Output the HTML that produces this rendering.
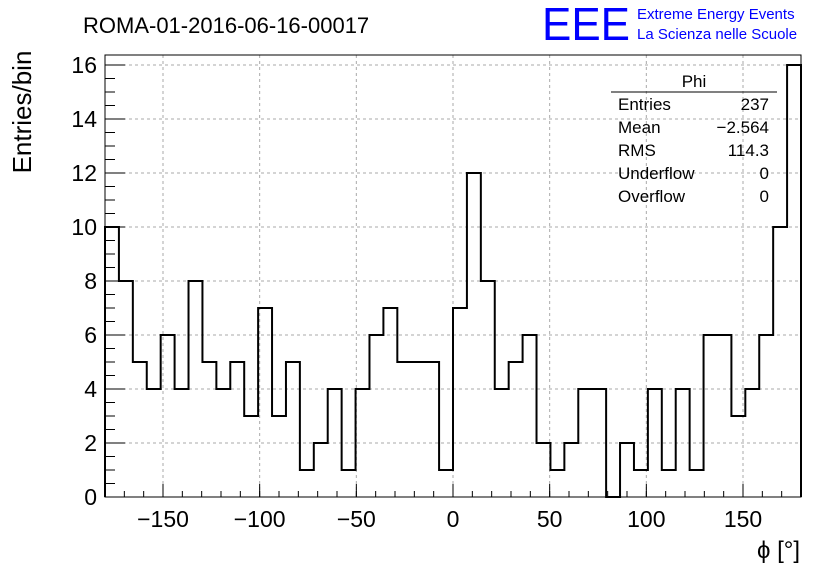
<!DOCTYPE html>
<html><head><meta charset="utf-8"><style>
body{margin:0;background:#fff;}
svg text{font-family:"Liberation Sans",sans-serif;}
</style></head><body>
<svg id="c" width="836" height="572" xmlns="http://www.w3.org/2000/svg">
<rect width="836" height="572" fill="#fff"/>
<text x="83" y="33" font-size="22">ROMA-01-2016-06-16-00017</text>
<text x="542" y="40" font-size="46" fill="#0000ff" textLength="88" lengthAdjust="spacingAndGlyphs">EEE</text>
<text x="637" y="19" font-size="15" fill="#0000ff">Extreme Energy Events</text>
<text x="637" y="39" font-size="15" fill="#0000ff">La Scienza nelle Scuole</text>
<g id="grid"></g>
<g id="axes"></g>
<path id="hist" fill="none" stroke="#000" stroke-width="2"/>
<rect x="105" y="55" width="696" height="442" fill="none" stroke="#000" stroke-width="1"/>
<g>
<text x="694" y="87" font-size="17" text-anchor="middle">Phi</text>
<line x1="611" y1="92" x2="777" y2="92" stroke="#000"/>
<text x="618" y="110" font-size="17">Entries</text><text x="769" y="110" font-size="17" text-anchor="end">237</text>
<text x="618" y="133" font-size="17">Mean</text><text x="769" y="133" font-size="17" text-anchor="end">−2.564</text>
<text x="618" y="156" font-size="17">RMS</text><text x="769" y="156" font-size="17" text-anchor="end">114.3</text>
<text x="618" y="179" font-size="17">Underflow</text><text x="769" y="179" font-size="17" text-anchor="end">0</text>
<text x="618" y="202" font-size="17">Overflow</text><text x="769" y="202" font-size="17" text-anchor="end">0</text>
</g>
<text transform="translate(31,112) rotate(-90)" font-size="26" text-anchor="middle">Entries/bin</text>
<text x="800" y="558" font-size="24" text-anchor="end">ϕ [°]</text>
</svg>
<script>
const counts=[10,8,5,4,6,4,8,5,4,5,3,7,3,5,1,2,4,1,4,6,7,5,5,5,1,7,12,8,4,5,6,2,1,2,4,4,0,2,1,4,1,4,1,6,6,3,4,6,10,16];
const xTicks=[-150,-100,-50,0,50,100,150];
const yTicks=[0,2,4,6,8,10,12,14,16];
const xMin=-180,xMax=180,yMax=16.37;
const L=105,R=801,T=55,B=497;
const X=v=>L+(v-xMin)/(xMax-xMin)*(R-L);
const Y=v=>B-v/yMax*(B-T);
const NS="http://www.w3.org/2000/svg";
const grid=document.getElementById('grid'),axes=document.getElementById('axes');
function mk(p,tag,a){const e=document.createElementNS(NS,tag);for(const k in a)e.setAttribute(k,a[k]);p.appendChild(e);return e;}
xTicks.forEach(t=>{
 const g=mk(grid,'line',{x1:X(t),x2:X(t),y1:T,y2:B,stroke:'#aaa','stroke-dasharray':'3,3'});
 
 
 const tk=mk(axes,'line',{x1:X(t),x2:X(t),y1:B,y2:B-13,stroke:'#000'});
 
 
 const lb=mk(axes,'text',{x:X(t),y:527,'font-size':23,'text-anchor':'middle'});
 lb.textContent=t<0?'−'+(-t):String(t);
 
 
});
for(let v=-180;v<=180;v+=10){mk(axes,'line',{x1:X(v),x2:X(v),y1:B,y2:B-6,stroke:'#000'});}
yTicks.forEach(t=>{
 if(t>0){const g=mk(grid,'line',{x1:L,x2:R,y1:Y(t),y2:Y(t),stroke:'#aaa','stroke-dasharray':'3,3'});
 
 }
 const tk=mk(axes,'line',{x1:L,x2:L+20,y1:Y(t),y2:Y(t),stroke:'#000'});
 
 
 const lb=mk(axes,'text',{x:97,y:Y(t)+8,'font-size':23,'text-anchor':'end'});
 lb.textContent=String(t);
 
 
});
for(let v=0;v<=16;v+=0.5){mk(axes,'line',{x1:L,x2:L+10,y1:Y(v),y2:Y(v),stroke:'#000'});}
const w=(xMax-xMin)/counts.length;
let d='M'+X(xMin)+','+Y(0);
counts.forEach((c,i)=>{d+=' L'+X(xMin+i*w)+','+Y(c)+' L'+X(xMin+(i+1)*w)+','+Y(c);});
d+=' L'+X(xMax)+','+Y(0);
document.getElementById('hist').setAttribute('d',d);
</script>
</body></html>
